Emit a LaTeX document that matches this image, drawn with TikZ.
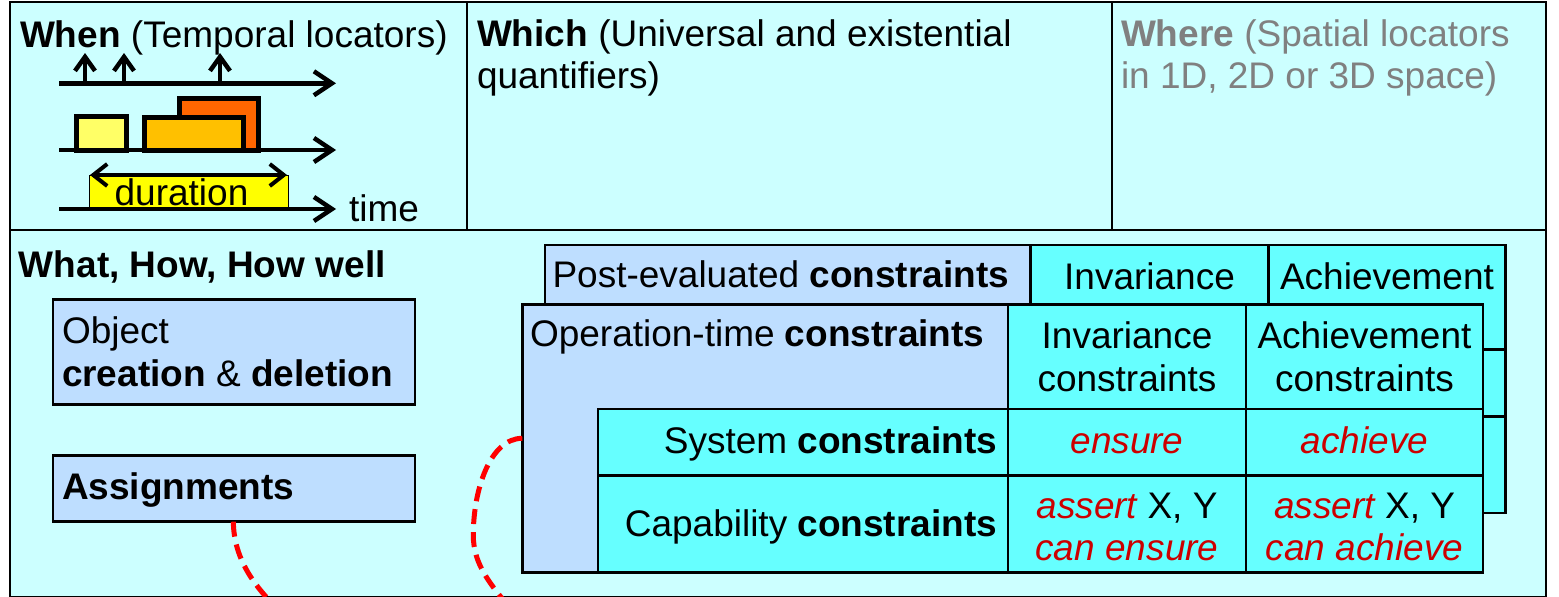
\documentclass[tikz,border=0pt]{standalone}
\usepackage{fontspec}
\setmainfont{Liberation Sans}
\usetikzlibrary{arrows.meta,calc}
\definecolor{bgcyan}{RGB}{204,255,255}
\definecolor{cellcyan}{RGB}{102,255,255}
\definecolor{lblue}{RGB}{190,222,255}
\definecolor{dred}{RGB}{204,0,0}
\definecolor{lyellow}{RGB}{255,255,102}
\definecolor{amber}{RGB}{255,192,0}
\definecolor{dorange}{RGB}{255,102,0}
\definecolor{yel}{RGB}{255,255,0}
\definecolor{greytext}{RGB}{128,128,128}
\definecolor{dashred}{RGB}{255,0,0}
\tikzset{
  frame/.style={draw=black, line width=2.5pt, fill=bgcyan, inner sep=0pt, outer sep=0pt},
  cellbox/.style={draw=black, line width=2.5pt, fill=cellcyan, inner sep=0pt, outer sep=0pt},
  lblbox/.style={draw=black, line width=2.5pt, fill=lblue, inner sep=0pt, outer sep=0pt},
  txt/.style={inner sep=0pt, outer sep=0pt, font=\fontsize{37}{42}\selectfont},
  rtxt/.style={txt, text=dred, font=\fontsize{37}{42}\selectfont\itshape},
  gtxt/.style={txt, text=greytext},
  axisline/.style={line width=4.5pt, -{Straight Barb[length=18pt,width=24pt]}},
  tickarrow/.style={line width=4.5pt, -{Straight Barb[length=14pt,width=20pt]}},
  durarrow/.style={line width=4pt, {Straight Barb[length=14pt,width=22pt]}-{Straight Barb[length=14pt,width=22pt]}},
  tbox/.style={draw=black, line width=5pt},
  reddash/.style={draw=dashred, line width=5pt, dash pattern=on 15pt off 8pt}
}
\newcommand{\conscells}[1]{%
  \node[lblbox, anchor=north west, minimum width=485.7pt, minimum height=268pt] (#1op) at (522.3,304.3) {};
  \node[cellbox, anchor=north west, minimum width=410pt, minimum height=66.7pt] (#1sys) at (598,409) {};
  \node[cellbox, anchor=north west, minimum width=410pt, minimum height=96.6pt] (#1cap) at (598,475.7) {};
  \node[cellbox, anchor=north west, minimum width=238pt, minimum height=104.7pt] (#1ih) at (1008,304.3) {};
  \node[cellbox, anchor=north west, minimum width=237pt, minimum height=104.7pt] (#1ah) at (1246,304.3) {};
  \node[cellbox, anchor=north west, minimum width=238pt, minimum height=66.7pt] (#1ie) at (1008,409) {};
  \node[cellbox, anchor=north west, minimum width=237pt, minimum height=66.7pt] (#1ae) at (1246,409) {};
  \node[cellbox, anchor=north west, minimum width=238pt, minimum height=96.6pt] (#1ic) at (1008,475.7) {};
  \node[cellbox, anchor=north west, minimum width=237pt, minimum height=96.6pt] (#1ac) at (1246,475.7) {};
}
\begin{document}
\begin{tikzpicture}[x=1pt,y=-1pt]
\useasboundingbox (0,0) rectangle (1559,597);
\fill[white] (0,0) rectangle (1559,597);
% top row
\node[frame, anchor=north west, minimum width=457pt, minimum height=228pt] (when) at (10,2) {};
\node[frame, anchor=north west, minimum width=645pt, minimum height=228pt] (which) at (467,2) {};
\node[frame, anchor=north west, minimum width=434pt, minimum height=228pt] (where) at (1112,2) {};
\node[txt, anchor=base west] (whent) at (20,47) {\textbf{When} (Temporal locators)};
\node[txt, anchor=base west] (whicha) at (477,46.7) {\textbf{Which} (Universal and existential};
\node[txt, anchor=base west] (whichb) at (477,88.7) {quantifiers)};
\node[gtxt, anchor=base west] (wherea) at (1121,46.7) {\textbf{Where} (Spatial locators};
\node[gtxt, anchor=base west] (whereb) at (1121,88.7) {in 1D, 2D or 3D space)};
% timeline pictogram
\draw[axisline] (59,83.3) -- (336,83.3);
\draw[tickarrow] (85,83.3) -- (85,53);
\draw[tickarrow] (124,83.3) -- (124,53);
\draw[tickarrow] (220,83.3) -- (220,53);
\draw[tbox, fill=lyellow] (76.5,116.5) rectangle (126.5,150);
\draw[tbox, fill=dorange] (179.5,98.5) rectangle (258.5,150);
\draw[tbox, fill=amber] (144.5,117.5) rectangle (243.5,150);
\draw[axisline] (59,150) -- (336,150);
\draw[draw=black, line width=0.8pt, fill=yel] (89,175) rectangle (288,209);
\draw[durarrow] (90,175) -- (287,175);
\node[txt, anchor=base] (durt) at (181.5,205) {duration};
\draw[axisline] (59,209) -- (336,209);
\node[txt, anchor=base west] (timet) at (349,221) {time};
% bottom region
\node[frame, anchor=north west, minimum width=1536pt, minimum height=367.5pt] (whatbox) at (10,230) {};
\node[txt, anchor=base west] (whatt) at (19,277) {\textbf{What, How, How well}};
\node[lblbox, anchor=north west, minimum width=362pt, minimum height=105pt] (objbox) at (53,299.3) {};
\node[txt, anchor=base west] (obja) at (62,343) {Object};
\node[txt, anchor=base west] (objb) at (62,386.7) {\textbf{creation} \& \textbf{deletion}};
\node[lblbox, anchor=north west, minimum width=362pt, minimum height=66pt] (assign) at (53,455.7) {};
\node[txt, anchor=base west] (assignt) at (62,499) {\textbf{Assignments}};
% back table (post-evaluated): only its uncovered texts
\begin{scope}[shift={(22.5,-59.3)}]
\conscells{b}
\node[txt, anchor=base west] (blab) at (530,346.7) {Post-evaluated \textbf{constraints}};
\node[txt, anchor=base] (binva) at (1127,348.3) {Invariance};
\node[txt, anchor=base] (bacha) at (1364.5,348.3) {Achievement};
\end{scope}
% front table (operation-time)
\conscells{f}
\node[txt, anchor=base west] (flab) at (530,346.7) {Operation-time \textbf{constraints}};
\node[txt, anchor=base east] (fsyst) at (997,453) {System \textbf{constraints}};
\node[txt, anchor=base east] (fcapt) at (997,536.7) {Capability \textbf{constraints}};
\node[txt, anchor=base] (finva) at (1127,348.3) {Invariance};
\node[txt, anchor=base] (finvb) at (1127,391.7) {constraints};
\node[txt, anchor=base] (facha) at (1364.5,348.3) {Achievement};
\node[txt, anchor=base] (fachb) at (1364.5,391.7) {constraints};
\node[rtxt, anchor=base] (fens) at (1127,453.3) {ensure};
\node[rtxt, anchor=base] (fachv) at (1364.5,453.3) {achieve};
\node[txt, anchor=base] (fasa) at (1127,518.3) {\textcolor{dred}{\itshape assert} X, Y};
\node[rtxt, anchor=base] (fcane) at (1127,560.7) {can ensure};
\node[txt, anchor=base] (fasb) at (1364.5,518.3) {\textcolor{dred}{\itshape assert} X, Y};
\node[rtxt, anchor=base] (fcana) at (1364.5,560.7) {can achieve};
% red dashed connectors leaving the picture
\coordinate (assignEnd) at (292,622);
\coordinate (opEnd) at (522,622);
\draw[reddash] ($(assign.south west)+(180.3,0)$) .. controls (234,560) and (255,590) .. (assignEnd);
\draw[reddash] ($(fop.north west)+(0,134)$) .. controls (490,438.3) and (473.3,490) .. (473.3,535) .. controls (473.3,565) and (490,585) .. (opEnd);
\end{tikzpicture}
\end{document}
